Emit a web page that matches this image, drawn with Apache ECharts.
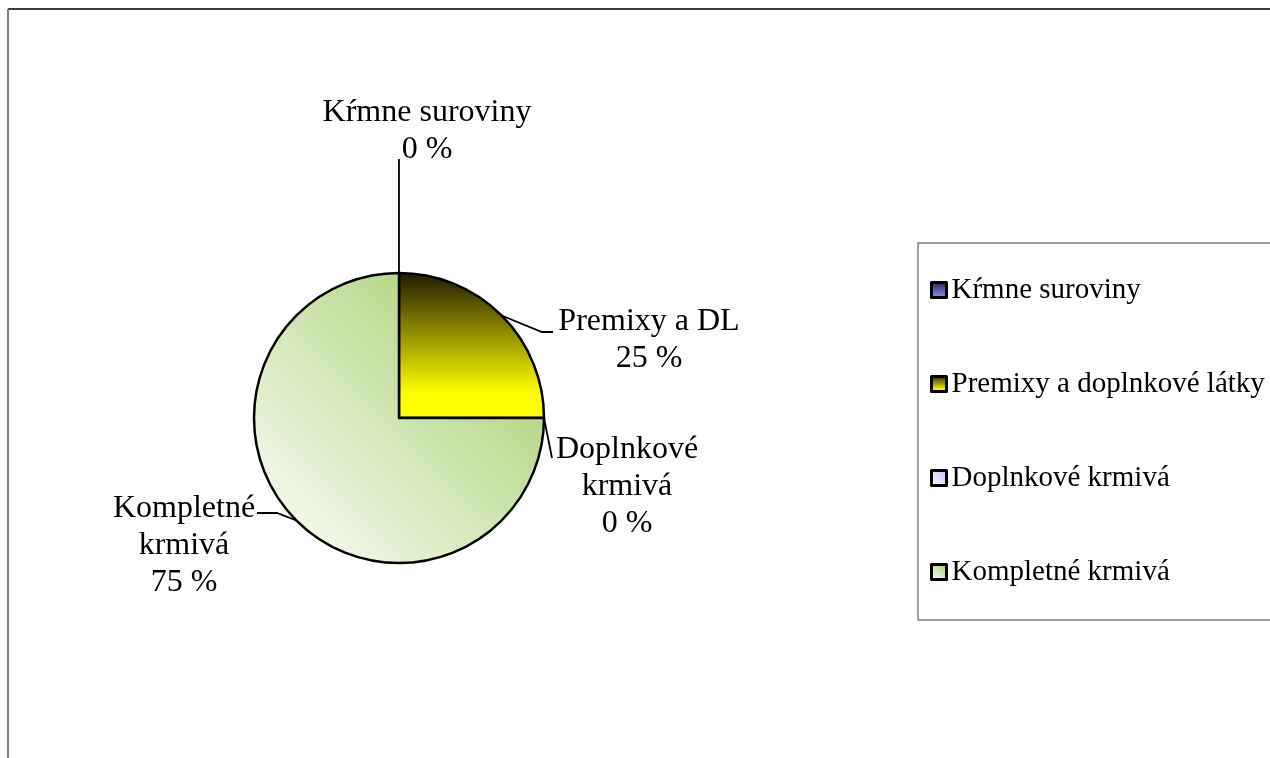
<!DOCTYPE html>
<html>
<head>
<meta charset="utf-8">
<script src="https://cdn.jsdelivr.net/npm/echarts@6/dist/echarts.min.js"></script>
<style>
html,body{margin:0;padding:0;background:#fff;}
#chart{width:1270px;height:758px;}
</style>
</head>
<body>
<div id="chart"></div>
<script>
// ---- data ----
var categories = ['Kŕmne suroviny', 'Premixy a doplnkové látky', 'Doplnkové krmivá', 'Kompletné krmivá'];
var labelNames = ['Kŕmne suroviny', 'Premixy a DL', 'Doplnkové\nkrmivá', 'Kompletné\nkrmivá'];
var values = [0, 25, 0, 75];

// ---- styles ----
var FONT = '"Liberation Serif", "Times New Roman", serif';
function vgrad(c0, c1, stop1) {
  return new echarts.graphic.LinearGradient(0, 0, 0, 1, [
    { offset: 0, color: c0 }, { offset: stop1, color: c1 }, { offset: 1, color: c1 }
  ]);
}
var colors = [
  vgrad('#222244', '#8c8cf0', 0.9),
  vgrad('#1e1800', '#ffff00', 0.82),
  new echarts.graphic.LinearGradient(0, 1, 1, 0, [
    { offset: 0, color: '#ffffff' }, { offset: 1, color: '#c8b4ff' }
  ]),
  new echarts.graphic.LinearGradient(0, 1, 1, 0, [
    { offset: 0, color: '#ffffff' }, { offset: 1, color: '#9fcc62' }
  ])
];

// label layout (block centres and leader-line bends, in px)
var labelPlacement = [
  { c: [427, 131], line: [[399, 159]] },
  { c: [649, 340], line: [[542, 332], [553, 332]] },
  { c: [627, 487], line: [[552, 458]] },
  { c: [184, 546], line: [[277, 513], [257, 513]] }
];

var chart = echarts.init(document.getElementById('chart'), null, { renderer: 'canvas' });

var option = {
  backgroundColor: '#ffffff',
  animation: false,
  textStyle: { fontFamily: FONT },
  graphic: [
    { type: 'line', shape: { x1: 8, y1: 9, x2: 1270, y2: 9 }, style: { stroke: '#404040', lineWidth: 2 }, silent: true },
    { type: 'line', shape: { x1: 8, y1: 9, x2: 8, y2: 758 }, style: { stroke: '#808080', lineWidth: 2 }, silent: true }
  ],
  legend: {
    orient: 'vertical',
    left: 918,
    top: 243,
    padding: [32, 20, 33, 12],
    borderColor: '#808080',
    borderWidth: 1.5,
    itemGap: 64,
    itemWidth: 15,
    itemHeight: 15,
    icon: 'rect',
    itemStyle: { borderColor: '#000', borderWidth: 3 },
    textStyle: { fontFamily: FONT, fontSize: 29, color: '#000', lineHeight: 30 },
    data: categories
  },
  series: [{
    type: 'pie',
    center: [399, 418],
    radius: 145,
    startAngle: 90,
    clockwise: true,
    avoidLabelOverlap: false,
    minShowLabelAngle: 0,
    itemStyle: { borderColor: '#000', borderWidth: 2.5 },
    emphasis: { disabled: true },
    label: {
      show: true,
      position: 'outside',
      fontFamily: FONT,
      fontSize: 32,
      lineHeight: 37,
      color: '#000',
      align: 'center',
      formatter: function (p) {
        return labelNames[p.dataIndex] + '\n' + Math.round(p.percent) + ' %';
      }
    },
    labelLine: { show: true, lineStyle: { color: '#000', width: 1.8 }, length: 20, length2: 10 },
    labelLayout: function (p) {
      var lp = labelPlacement[p.dataIndex];
      var anchor = p.labelLinePoints ? p.labelLinePoints[0] : lp.line[0];
      return {
        x: lp.c[0],
        y: lp.c[1],
        align: 'center',
        verticalAlign: 'middle',
        labelLinePoints: [anchor].concat(lp.line)
      };
    },
    data: categories.map(function (name, i) {
      return { name: name, value: values[i], itemStyle: { color: colors[i] } };
    })
  }]
};
chart.setOption(option);
</script>
</body>
</html>
